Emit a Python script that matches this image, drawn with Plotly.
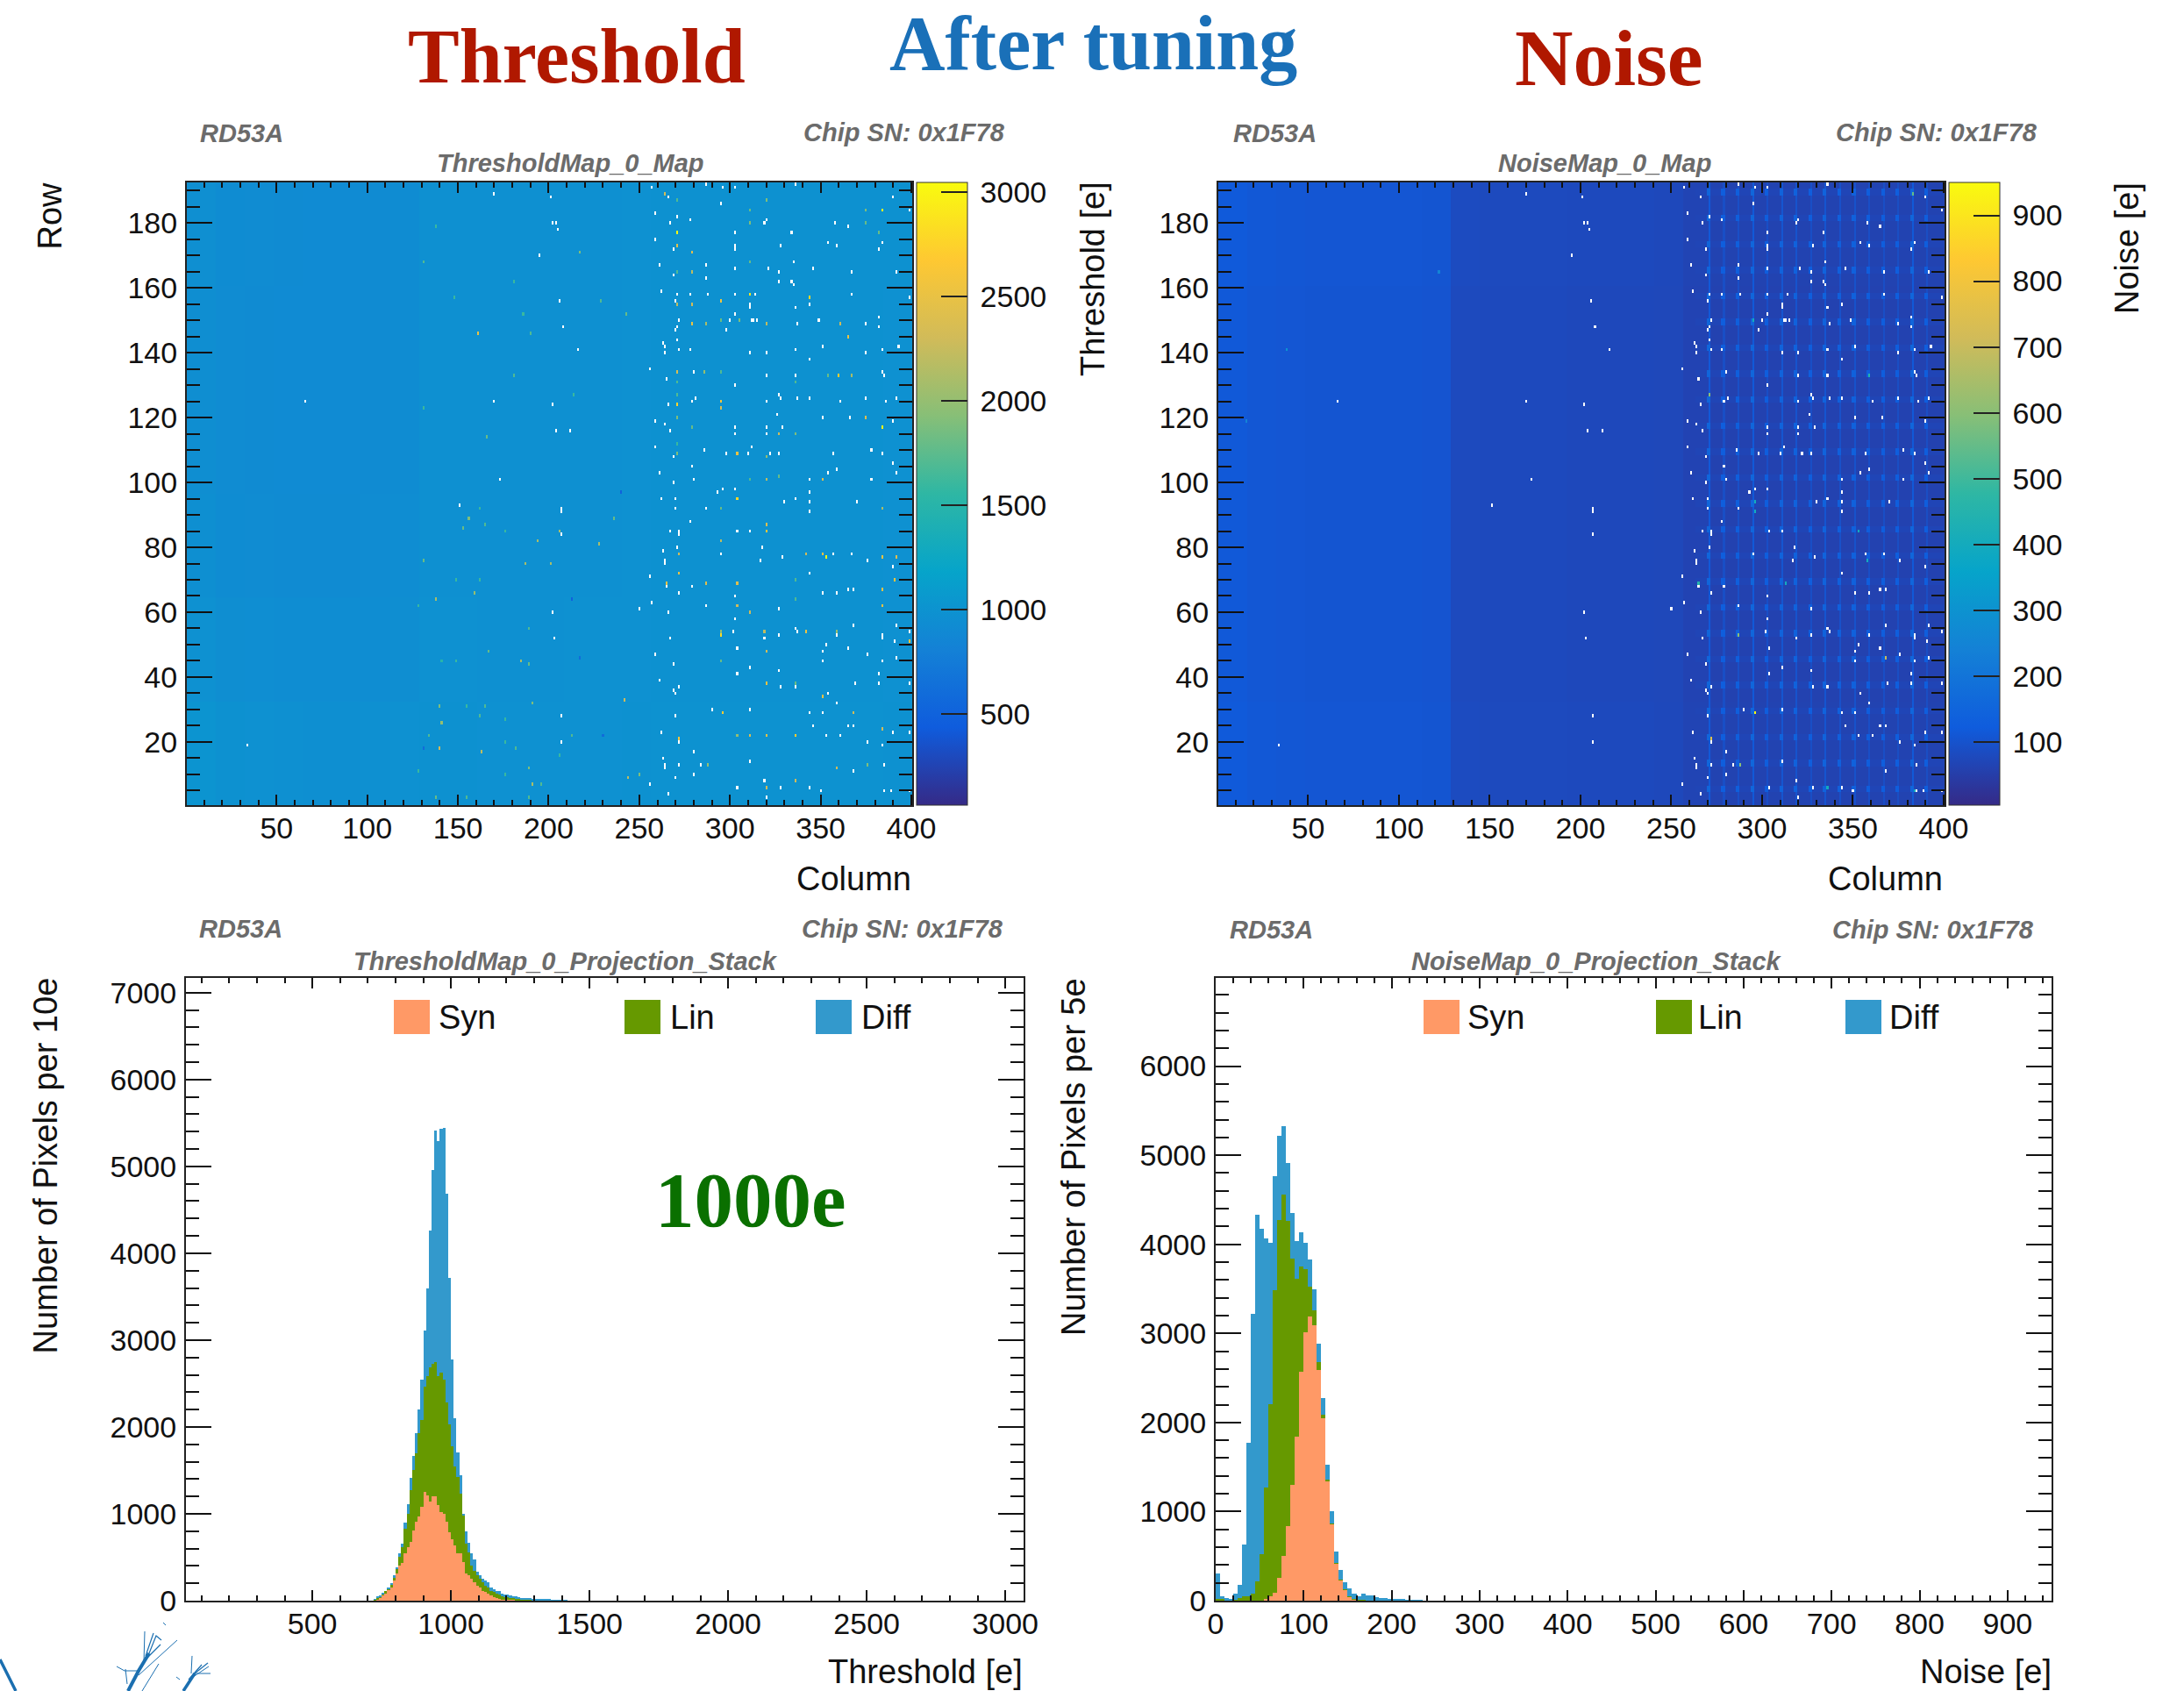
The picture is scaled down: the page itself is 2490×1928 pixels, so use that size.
import numpy as np
import plotly.graph_objects as go

W, H = 2490, 1928

# ---------- histogram data: threshold (10 e bins, low edge of first bin 720) ----------
thr_bin_start = 720
thr_bin_width = 10
thr_syn = [8,19,39,62,85,124,147,232,309,405,432,541,618,676,803,907,973,1081,1255,1216,1139,1204,1204,1100,1023,1004,907,792,703,637,541,541,444,317,290,251,212,174,154,116,97,77,58,39,27,19,15,12,12,8,6,4,3,2,2,1,1,1,0,0,0,0,0,0,0,0,0,0,0,0]
thr_lin = [4,20,11,15,31,11,38,38,58,105,186,289,386,598,703,792,957,1004,1208,1371,1544,1518,1545,1487,1603,1544,1379,1235,1073,907,887,695,541,339,270,154,135,116,97,96,77,77,58,58,50,50,43,27,27,23,21,19,17,13,13,11,11,8,8,8,6,6,5,5,4,4,3,3,2,2]
thr_diff = [7,7,8,8,0,8,8,20,19,31,38,66,104,135,162,231,271,456,645,1004,1576,2239,2664,2703,2806,2896,2397,1691,1004,560,279,212,19,143,104,136,124,46,39,39,58,58,38,38,31,47,19,30,27,25,25,23,22,20,18,16,14,14,12,10,10,8,8,7,6,6,5,5,4,4]

# ---------- histogram data: noise (5 e bins, first bin starts at 0) ----------
noi_bin_start = 0
noi_bin_width = 5
noi_syn = [0,0,0,0,0,0,0,0,0,0,0,19,45,91,253,506,838,1298,1845,2574,3008,3185,3094,2593,2046,1347,857,415,234,121,45,15,8,4,0,0,0,0,0,0,0,0,0,0,0,0,0]
noi_lin = [15,15,8,4,8,26,45,53,75,215,517,1253,2163,3396,4019,4049,3423,2540,1767,1177,709,344,167,87,37,12,11,5,4,4,5,4,4,4,3,2,2,0,0,0,0,0,0,0,0,0,0]
noi_diff = [287,30,18,11,75,151,585,1717,3140,4121,3661,2793,1811,1276,944,774,653,510,426,382,302,302,238,203,189,169,140,135,109,83,90,64,37,68,60,60,38,26,26,19,15,11,11,8,8,6,4]

# ---------- map data: coarse levels (16 columns x 32 rows per entry) ----------
thr_levels = [
 [1010,985,975,965,960,960,965,975,985,985,980,975,975,980,980,985,990,990,990,990,990,990,990,990,985],
 [975,950,945,935,935,935,940,950,975,975,970,970,970,975,975,980,985,985,985,985,985,985,985,985,980],
 [960,930,925,920,920,920,925,935,970,970,965,965,965,970,970,975,985,985,985,985,985,985,985,985,980],
 [950,925,920,915,915,915,920,930,965,965,965,965,965,965,970,975,985,985,985,985,985,985,985,985,980],
 [950,925,920,915,915,915,920,930,965,965,965,965,965,965,970,975,985,985,985,985,985,985,985,985,980],
 [955,930,925,920,915,915,920,930,965,965,965,965,965,970,970,975,985,985,985,985,985,985,985,985,985],
]
noi_levels = [
 [118,112,110,108,108,108,108,106,82,80,80,80,78,78,78,76,66,62,62,62,62,62,62,62,62],
 [116,110,108,106,106,106,106,104,80,78,78,78,76,76,76,74,64,60,60,60,60,60,60,60,60],
 [116,110,108,106,106,106,106,104,80,78,78,78,76,76,76,74,64,60,60,60,60,60,60,60,60],
 [116,110,108,106,106,106,106,104,80,78,78,78,76,76,76,74,64,60,60,60,60,60,60,60,60],
 [116,110,108,106,106,106,106,104,80,78,78,78,76,76,76,74,64,60,60,60,60,60,60,60,60],
 [118,112,110,108,108,108,108,106,82,80,80,80,78,78,78,76,66,62,62,62,62,62,62,62,62],
]
noise_stripe_cols = [271,279,287,295,303,311,319,327,335,343,351,359,367,375,383,391]
noise_stripe_levels = [115,90,92,115,90,105,100,90,105,95,98,90,90,88,115,88]
noise_band_rows = [5,13,21,29,37,45,53,61,69,77,85,93,101,109,117,125,133,141,149,157,165,173,181,189]
noise_band_level = 68
noise_block_gain = 40

# cells left white in both maps (column, row)
failed_cells = [
 (66,125),(34,19),(151,93),(207,92),(207,91),(207,84),(202,60),(203,52),(207,28),(207,20),(250,61),
 (202,180),(206,156),(216,141),(202,124),(204,116),(204,180),(201,188),(170,189),(205,178),(195,170),(208,148),(170,125),(212,116),(173,101),
 (257,191),(287,192),(296,191),(303,191),(336,192),(266,188),(295,186),(390,188),(399,184),(259,183),(271,182),(278,181),(267,180),(319,180),(320,181),(358,180),(365,179),
 (303,177),(334,177),(259,175),(269,172),(303,173),(303,172),(328,173),(354,174),(359,173),(384,174),(382,172),(261,167),(287,167),(303,166),(321,166),(335,168),(346,166),
 (327,165),(367,165),(392,165),(269,164),(287,163),(327,162),(334,162),(335,161),(262,159),(271,158),(278,158),(288,158),(303,158),(314,158),(367,158),(270,156),(311,155),(311,154),
 (344,155),(336,154),(399,157),(303,152),(300,150),(312,150),(313,150),(315,150),(349,150),(382,151),(272,150),(337,149),(375,149),(382,148),(271,148),(270,147),(298,147),
 (271,144),(263,143),(264,142),(272,141),(278,141),(336,141),(351,142),(393,142),(264,140),(311,140),(320,140),(384,141),(375,140),(344,138),(256,135),(280,134),(320,133),(336,133),
 (384,134),(385,133),(265,132),(303,130),(327,127),(281,126),(328,126),(337,126),(344,126),(375,126),(392,126),(266,124),(320,125),(386,125),(361,125),(279,125),(326,121),(351,120),
 (366,120),(259,119),(390,119),(264,118),(303,117),(320,117),(329,117),(267,116),(303,115),(320,115),(259,111),(312,111),(286,110),(298,109),(310,109),(322,109),(327,109),(357,109),
 (378,110),(384,109),(269,108),(279,105),(390,106),(261,103),(359,104),(354,103),(392,103),(280,101),(269,100),(344,101),(378,101),(296,98),(303,98),(293,97),(344,97),
 (336,95),(370,94),(262,95),(270,95),(330,94),(344,94),(344,91),(270,92),(287,92),(278,88),(267,85),(272,85),(272,84),(304,85),(311,85),(263,79),(271,80),(318,80),(264,76),(264,75),
 (295,78),(329,77),(357,78),(367,78),(317,76),(376,76),(390,74),(344,72),(256,71),(265,68),(279,68),(351,66),(365,67),(368,67),(359,66),(272,66),(303,65),(257,63),(250,61),(287,62),
 (266,60),(327,61),(303,58),(336,55),(302,54),(337,54),(368,56),(392,56),(399,54),(267,52),(319,52),(327,53),(384,52),(384,53),(359,53),(391,51),(353,50),(365,49),(304,49),(351,48),
 (376,47),(259,47),(392,46),(351,45),(384,45),(269,44),(311,43),(327,42),(304,41),(382,41),(261,39),(369,38),(382,38),(399,38),(272,37),(336,37),(269,36),(328,37),(270,35),(354,35),
 (359,32),(290,30),(311,30),(344,29),(351,29),(270,28),(346,25),(365,25),(368,25),(262,23),(390,23),(399,23),(353,22),(361,22),(272,20),(376,20),(384,19),(280,17),(263,15),(311,14),
 (264,13),(264,12),(272,13),(284,13),(385,13),(280,10),(368,11),(270,9),(319,8),(256,7),(304,6),(328,6),(344,6),(350,5),(266,4),(320,3),(385,5),(389,5),(399,5),
]

# individually readable threshold cells (column, row, electrons)
thr_cells = [
 (271,177,3000),(384,184,3000),(384,117,3000),(360,133,2720),(271,124,2750),(264,189,2300),(271,173,2450),(295,156,2550),(295,125,2600),(295,123,2350),(271,134,2350),(344,157,2800),
 (271,187,1700),(311,184,1800),(320,187,1900),(375,184,1900),(311,180,1900),(375,180,1800),(382,177,1800),(279,171,2400),(311,168,1800),(271,165,1700),(279,165,2200),(311,158,2900),
 (295,150,1800),(305,150,1900),(279,149,2500),(287,149,2100),(320,149,2200),(361,149,2300),(365,145,2500),(271,155,2200),(279,155,2300),(271,127,1700),(271,120,1900),(375,120,2400),
 (271,109,1900),(320,108,2000),(311,101,1700),(320,101,2200),(327,102,1800),(351,101,2400),(304,109,2500),(367,133,2100),(354,133,1800),(286,134,2000),(295,134,1700),(271,131,1700),
 (271,112,1600),(336,131,1700),(336,115,1900),(327,115,2300),(279,117,1800),(304,95,2800),(320,85,2600),(353,77,3000),(295,53,2800),(296,29,2700),(336,22,2700),(320,22,2500),
 (272,21,2600),(272,78,2300),(272,72,2500),(265,69,2500),(287,69,2400),(304,69,2400),(295,92,1800),(384,92,2100),(320,87,2400),(295,82,2200),(342,78,2300),(351,78,2500),(384,77,2500),
 (392,77,2400),(391,70,2600),(384,67,2500),(336,70,1700),(336,64,1700),(304,62,2300),(311,60,2300),(384,62,2500),(295,54,2000),(319,54,2200),(342,54,2500),(359,54,2000),(399,51,2600),
 (320,48,2300),(295,45,1800),(320,38,2500),(336,38,1800),(351,34,2500),(368,29,2300),(384,24,2300),(311,22,2400),(304,22,2000),(359,12,2300),(376,13,1900),(288,13,2000),(250,10,1900),
 (336,8,2300),(320,6,2300),(161,146,2500),(131,76,1800),(138,64,2100),(159,66,2000),(149,70,1600),(162,70,1600),(128,62,1600),(141,26,2000),(134,22,1700),(189,55,1700),(189,44,1800),
 (149,45,1600),(141,45,1500),(162,28,1700),(155,31,1600),(165,31,1700),(176,27,1600),(176,20,1600),(182,18,1700),(189,12,1900),(176,10,1600),(128,11,1600),(206,16,1600),(206,85,2100),
 (165,87,1700),(176,85,1600),(162,92,1600),(191,32,1900),(140,31,1900),(140,18,2300),(163,17,2200),(191,7,2100),(196,7,1700),(244,9,2200),(213,22,1700),(155,3,1700),(189,3,1700),
 (138,3,1800),(187,75,2100),(201,75,2100),(194,82,2100),(228,81,2100),(236,89,1800),(242,33,2300),(156,89,1900),(153,86,1800),(185,45,2100),(167,48,1800),(138,179,1600),(131,168,1700),
 (148,157,1600),(181,133,1700),(186,152,1600),(217,171,1900),(229,156,1700),(243,152,1800),(190,146,1700),(166,114,1800),(131,123,1600),(181,162,1600),(214,127,1600),
 (213,64,500),(131,18,600),(230,22,600),(240,97,500),(217,46,600),
]
# individually readable noise cells (column, row, electrons)
noi_cells = [
 (296,29,940),(272,21,760),(288,13,600),(296,94,400),(296,91,400),(353,85,400),(313,69,400),(336,6,400),(384,5,400),(358,76,400),(368,46,700),(265,69,450),(287,53,600),
 (271,127,600),(359,133,450),(383,189,550),(295,150,400),(38,141,300),(122,165,250),(16,119,250),
]

# ---------- pixel layout ----------
def fx(x): return x / W
def fy(y): return 1 - y / H

def dom_x(a, b): return [fx(a), fx(b)]
def dom_y(top, bot): return [fy(bot), fy(top)]

def build_map(levels):
    return np.repeat(np.repeat(np.array(levels, dtype=float), 32, axis=0), 16, axis=1)

z_thr = build_map(thr_levels)
z_noi = build_map(noi_levels)
for r in noise_band_rows:
    z_noi[r - 1:r + 1, 263:] = noise_band_level
for c, lv in zip(noise_stripe_cols, noise_stripe_levels):
    z_noi[:, c - 1] = lv
    for r in noise_band_rows:
        z_noi[r - 1:r + 1, c - 2:c] = lv + noise_block_gain
for c, r, v in thr_cells:
    z_thr[r - 1, c - 1] = v
for c, r, v in noi_cells:
    z_noi[r - 1, c - 1] = v
for c, r in failed_cells:
    z_thr[r - 1, c - 1] = np.nan
    z_noi[r - 1, c - 1] = np.nan

columns = list(range(1, 401))
rows = list(range(1, 193))

bird = [[0, "#352A87"], [0.125, "#0F5CDD"], [0.25, "#1481D6"], [0.375, "#06A4CA"], [0.5, "#2EB7A4"],
        [0.625, "#87BF77"], [0.75, "#D1BB59"], [0.875, "#FEC832"], [1, "#F9FB0E"]]

TICK = dict(size=34, color="#111111", family="Liberation Sans")
fig = go.Figure()

def colorbar(x0, dtick):
    return dict(x=fx(x0), xanchor="left", xpad=0, y=fy(918), yanchor="bottom", ypad=0, len=710 / H, lenmode="fraction",
                thickness=58, thicknessmode="pixels", outlinewidth=1, outlinecolor="#333333", ticks="inside", ticklen=30,
                tickwidth=2, tickcolor="#222222", dtick=dtick, tick0=0, tickfont=TICK, tickprefix="\u2009")

fig.add_trace(go.Heatmap(x=columns, y=rows, z=z_thr.tolist(), zmin=64, zmax=3046, colorscale=bird, zsmooth=False,
                         hoverongaps=False, colorbar=colorbar(1045, 500), xaxis="x", yaxis="y", name="Threshold"))
fig.add_trace(go.Heatmap(x=columns, y=rows, z=z_noi.tolist(), zmin=4, zmax=950, colorscale=bird, zsmooth=False,
                         hoverongaps=False, colorbar=colorbar(2222, 100), xaxis="x2", yaxis="y2", name="Noise"))

SYN, LIN, DIFF = "#FF9966", "#669900", "#3399CC"
def stack(start, width, series, xa, ya):
    for name, vals, col in zip(["Syn", "Lin", "Diff"], series, [SYN, LIN, DIFF]):
        xs = [start + width * (i + 0.5) for i in range(len(vals))]
        fig.add_trace(go.Bar(x=xs, y=vals, width=width, name=name, marker=dict(color=col, line=dict(width=0)),
                             xaxis=xa, yaxis=ya, showlegend=False))
stack(thr_bin_start, thr_bin_width, [thr_syn, thr_lin, thr_diff], "x3", "y3")
stack(noi_bin_start, noi_bin_width, [noi_syn, noi_lin, noi_diff], "x4", "y4")

def axis(dom, rng, dtick, mdtick, ticklen, mlen, anchor, standoff):
    return dict(domain=dom, range=rng, dtick=dtick, tick0=0, ticks="inside", ticklen=ticklen, tickwidth=2, tickcolor="#111111",
                mirror="allticks", showline=True, linecolor="#222222", linewidth=2, showgrid=False, zeroline=False,
                tickfont=TICK, anchor=anchor, tickformat="d", automargin=False, ticklabelstandoff=standoff,
                minor=dict(dtick=mdtick, tick0=0, ticks="inside", ticklen=mlen, tickwidth=2, tickcolor="#111111", showgrid=False))

layout = dict(width=W, height=H, margin=dict(l=0, r=0, t=0, b=0, autoexpand=False), paper_bgcolor="white", plot_bgcolor="white",
              barmode="stack", bargap=0, showlegend=False,
              xaxis=axis(dom_x(213, 1040), [0.5, 400.5], 50, 10, 12, 6, "y", -5),
              yaxis=axis(dom_y(208, 918), [0.5, 192.5], 20, 5, 29, 15, "x", 2),
              xaxis2=axis(dom_x(1389, 2217), [0.5, 400.5], 50, 10, 12, 6, "y2", -5),
              yaxis2=axis(dom_y(208, 918), [0.5, 192.5], 20, 5, 29, 15, "x2", 2),
              xaxis3=axis(dom_x(212, 1167), [44, 3066], 500, 100, 12, 6, "y3", -5),
              yaxis3=axis(dom_y(1115, 1825), [0, 7170], 1000, 200, 29, 15, "x3", 2),
              xaxis4=axis(dom_x(1386, 2339), [0, 950], 100, 20, 12, 6, "y4", -5),
              yaxis4=axis(dom_y(1115, 1825), [0, 6990], 1000, 200, 29, 15, "x4", 2))

SANS = "Liberation Sans"
SERIF = "Liberation Serif"
anns = []
def text(t, x, y, size, color="#111111", family=SANS, xa="center", ya="middle", angle=0, weight=None, style=None):
    f = dict(size=size, color=color, family=family)
    if weight: f["weight"] = weight
    if style: f["style"] = style
    anns.append(dict(text=t, x=fx(x), y=fy(y), xref="paper", yref="paper", xanchor=xa, yanchor=ya, showarrow=False,
                     textangle=angle, font=f))

RED, BLUE, GREEN, GREY = "#B01800", "#1A70B8", "#0A7000", "#6B6B6B"
text("Threshold", 657, 65, 88, RED, SERIF, weight="bold")
text("After tuning", 1246, 49, 88, BLUE, SERIF, weight="bold")
text("Noise", 1834, 66, 92, RED, SERIF, weight="bold")
text("1000e", 856, 1368, 89, GREEN, SERIF, weight="bold")

def lab(t, x, y, xa="center"):
    text(t, x, y, 29, GREY, SANS, xa=xa, weight="bold", style="italic")
lab("RD53A", 226, 152, "left"); lab("Chip SN: 0x1F78", 1148, 151, "right"); lab("ThresholdMap_0_Map", 650, 186)
lab("RD53A", 1404, 152, "left"); lab("Chip SN: 0x1F78", 2325, 151, "right"); lab("NoiseMap_0_Map", 1829, 186)
lab("RD53A", 225, 1059, "left"); lab("Chip SN: 0x1F78", 1146, 1059, "right"); lab("ThresholdMap_0_Projection_Stack", 645, 1096)
lab("RD53A", 1400, 1060, "left"); lab("Chip SN: 0x1F78", 2321, 1060, "right"); lab("NoiseMap_0_Projection_Stack", 1820, 1096)

text("Row", 57, 206, 38, ya="top", angle=-90)
text("Threshold [e]", 1246, 205, 38, ya="top", angle=-90)
text("Noise [e]", 2425, 206, 38, ya="top", angle=-90)
text("Number of Pixels per 10e", 51, 1113, 38, ya="top", angle=-90)
text("Number of Pixels per 5e", 1224, 1113, 38, ya="top", angle=-90)
text("Column", 1041, 1002, 38, xa="right")
text("Column", 2217, 1002, 38, xa="right")
text("Threshold [e]", 1168, 1906, 38, xa="right")
text("Noise [e]", 2341, 1906, 38, xa="right")

shapes = []
legend_rows = [(449, 498, 712, 762, 930, 980), (1623, 1671, 1888, 1934, 2104, 2152)]
for sx1, tx1, sx2, tx2, sx3, tx3 in legend_rows:
    for sx, tx, name, col in [(sx1, tx1, "Syn", SYN), (sx2, tx2, "Lin", LIN), (sx3, tx3, "Diff", DIFF)]:
        shapes.append(dict(type="rect", xref="paper", yref="paper", x0=fx(sx), x1=fx(sx + 41), y0=fy(1179), y1=fy(1140),
                           fillcolor=col, line=dict(width=0)))
        text(name, tx, 1160, 38, xa="left")

# the blue branch artwork in the lower left corner of the slide
branches = [
 ([(0, 1892), (8, 1908), (18, 1928)], 3.5),
 ([(146, 1928), (158, 1905), (170, 1885)], 4),
 ([(170, 1885), (178, 1865), (184, 1870)], 1.2),
 ([(164, 1895), (165, 1860)], 1), ([(166, 1888), (175, 1862)], 1.2), ([(168, 1890), (183, 1875)], 1.2),
 ([(158, 1905), (142, 1905), (133, 1900)], 1), ([(158, 1910), (180, 1890), (202, 1870)], 1), ([(162, 1928), (181, 1897)], 1),
 ([(143, 1903), (145, 1920)], 1), ([(186, 1850), (189, 1853)], 1),
 ([(209, 1928), (222, 1908)], 3.5), ([(222, 1908), (237, 1896)], 1.2), ([(218, 1908), (219, 1888)], 1), ([(222, 1908), (240, 1908)], 1),
 ([(205, 1915), (201, 1912)], 1), ([(215, 1915), (230, 1898)], 1.2), ([(220, 1912), (238, 1900)], 1),
]
for b, lw in branches:
    p = "M" + " L".join(f"{fx(x):.5f},{fy(y):.5f}" for x, y in b)
    shapes.append(dict(type="path", xref="paper", yref="paper", path=p, line=dict(color="#1B6FB0", width=lw)))

layout["annotations"] = anns
layout["shapes"] = shapes
fig.update_layout(**layout)
fig.write_html("out.html", config={"displayModeBar": False},
               post_script="document.body.style.margin='0';document.documentElement.style.overflow='hidden';")
